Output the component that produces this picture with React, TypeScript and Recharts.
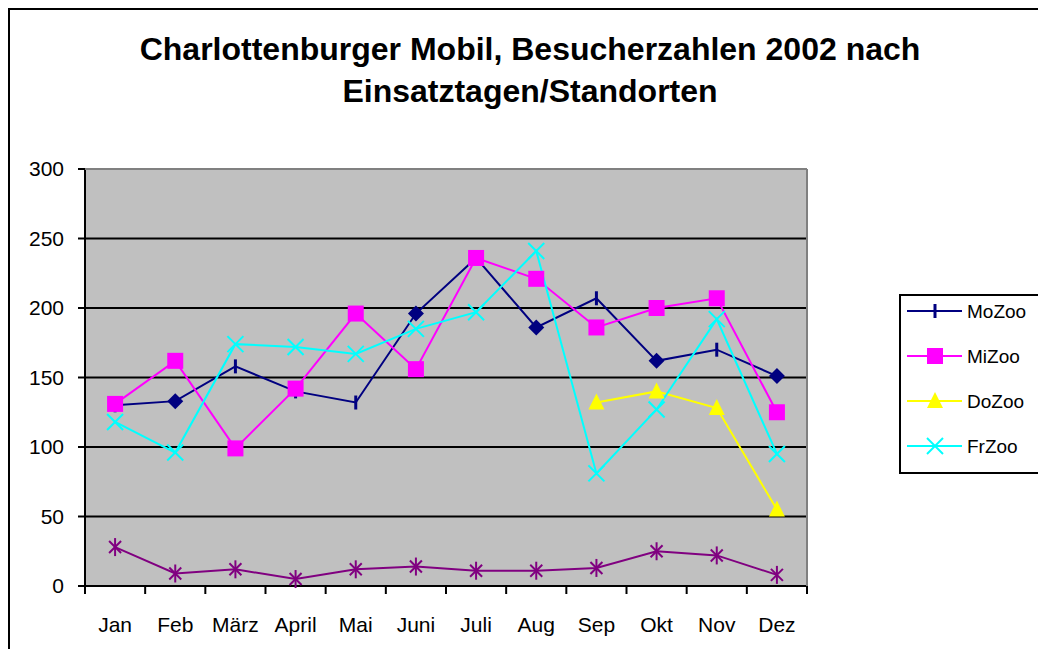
import React from 'react';
import { LineChart, Line, XAxis, YAxis, CartesianGrid } from 'recharts';

// Besucherzahlen je Monat
const months = ['Jan', 'Feb', 'März', 'April', 'Mai', 'Juni', 'Juli', 'Aug', 'Sep', 'Okt', 'Nov', 'Dez'];
const moZoo = [130, 133, 158, 140, 132, 196, 236, 186, 207, 162, 170, 151];
const miZoo = [131, 162, 99, 142, 196, 156, 236, 221, 186, 200, 207, 125];
const doZoo = [null, null, null, null, null, null, null, null, 132, 140, 128, 55];
const frZoo = [118, 96, 174, 172, 167, 185, 197, 241, 81, 127, 192, 95];
const reihe5 = [28, 9, 12, 5, 12, 14, 11, 11, 13, 25, 22, 8];

const yTicks = [0, 50, 100, 150, 200, 250, 300];
const titleLines = ['Charlottenburger Mobil, Besucherzahlen 2002 nach', 'Einsatztagen/Standorten'];
const legendNames = ['MoZoo', 'MiZoo', 'DoZoo', 'FrZoo'];
// MoZoo is drawn with two marker types in the original
const moZooDiamonds = ['Feb', 'Juni', 'Aug', 'Okt', 'Dez'];

const data = months.map((m, i) => ({
  month: m,
  MoZoo: moZoo[i],
  MiZoo: miZoo[i],
  DoZoo: doZoo[i],
  FrZoo: frZoo[i],
  Reihe5: reihe5[i],
}));

const W = 1046;
const H = 657;
const PLOT_LEFT = 85;
const PLOT_TOP = 169;
const PLOT_RIGHT = 807;
const PLOT_BOTTOM = 586;
const BAND = (PLOT_RIGHT - PLOT_LEFT) / months.length;
const FONT = '"Liberation Sans", Arial, sans-serif';

const NAVY = '#000080';
const MAGENTA = '#FF00FF';
const YELLOW = '#FFFF00';
const CYAN = '#00FFFF';
const PURPLE = '#800080';

const marker = (kind: string, x: number, y: number, key?: string) => {
  switch (kind) {
    case 'diamond':
      return <path key={key} d={`M${x},${y - 8} L${x + 8},${y} L${x},${y + 8} L${x - 8},${y} Z`} fill={NAVY} />;
    case 'dash':
      return <line key={key} x1={x} x2={x} y1={y - 7} y2={y + 7} stroke={NAVY} strokeWidth={3} />;
    case 'square':
      return <rect key={key} x={x - 8} y={y - 8} width={16} height={16} fill={MAGENTA} />;
    case 'triangle':
      return <path key={key} d={`M${x},${y - 9} L${x + 8},${y + 7} L${x - 8},${y + 7} Z`} fill={YELLOW} />;
    case 'x':
      return (
        <g key={key} stroke={CYAN} strokeWidth={2}>
          <line x1={x - 8} y1={y - 8} x2={x + 8} y2={y + 8} />
          <line x1={x - 8} y1={y + 8} x2={x + 8} y2={y - 8} />
        </g>
      );
    case 'star':
      return (
        <g key={key} stroke={PURPLE} strokeWidth={2}>
          <line x1={x - 6} y1={y - 6} x2={x + 6} y2={y + 6} />
          <line x1={x - 6} y1={y + 6} x2={x + 6} y2={y - 6} />
          <line x1={x} y1={y - 9} x2={x} y2={y + 9} />
        </g>
      );
    default:
      return <g key={key} />;
  }
};

const dotFor = (kind: string | ((p: any) => string)) => (props: any) => {
  const { cx, cy, index, value, payload } = props;
  const key = `dot-${index}`;
  if (value == null || cx == null || cy == null) return <g key={key} />;
  const k = typeof kind === 'function' ? kind(payload) : kind;
  return marker(k, cx, cy, key);
};

const MonthTick = (props: any) => {
  const { x, payload, index } = props;
  const half = BAND / 2;
  return (
    <g>
      <line x1={x - half} x2={x - half} y1={PLOT_BOTTOM} y2={PLOT_BOTTOM + 8} stroke="#000" strokeWidth={2} />
      {index === months.length - 1 && (
        <line x1={x + half} x2={x + half} y1={PLOT_BOTTOM} y2={PLOT_BOTTOM + 8} stroke="#000" strokeWidth={2} />
      )}
      <text x={x} y={632} textAnchor="middle" fontSize={21} fill="#000" fontFamily={FONT}>
        {payload.value}
      </text>
    </g>
  );
};

const legendMarkers = ['dash', 'square', 'triangle', 'x'];
const legendColors = [NAVY, MAGENTA, YELLOW, CYAN];

const Overlay = () => (
  <svg width={W} height={H} style={{ position: 'absolute', left: 0, top: 0, pointerEvents: 'none' }}>
    {/* outer chart frame: left, top, right down to the legend */}
    <path d="M9,657 L9,9 L1040,9 L1040,295" fill="none" stroke="#000" strokeWidth={2} />
    {/* plot frame top / right */}
    <line x1={PLOT_LEFT} y1={PLOT_TOP} x2={PLOT_RIGHT} y2={PLOT_TOP} stroke="#808080" strokeWidth={2} />
    <line x1={PLOT_RIGHT} y1={PLOT_TOP} x2={PLOT_RIGHT} y2={PLOT_BOTTOM} stroke="#808080" strokeWidth={2} />
    {/* title */}
    {titleLines.map((t, i) => (
      <text
        key={t}
        x={530}
        y={60 + i * 42}
        textAnchor="middle"
        fontSize={32}
        fontWeight="bold"
        fontFamily={FONT}
        fill="#000"
      >
        {t}
      </text>
    ))}
    {/* legend */}
    <rect x={900} y={295} width={160} height={178} fill="#fff" stroke="#000" strokeWidth={2} />
    {legendNames.map((name, i) => {
      const y = 311 + i * 45;
      return (
        <g key={name}>
          <line x1={907} x2={962} y1={y} y2={y} stroke={legendColors[i]} strokeWidth={2} />
          {marker(legendMarkers[i], 935, y)}
          <text x={967} y={y + 7} fontSize={19} fontFamily={FONT} fill="#000">
            {name}
          </text>
        </g>
      );
    })}
  </svg>
);

const App = () => {
  return (
    <div style={{ position: 'relative', width: W, height: H, margin: -8, overflow: 'hidden', background: '#fff', fontFamily: FONT }}>
      <LineChart
        width={W}
        height={H}
        data={data}
        margin={{ top: PLOT_TOP, right: W - PLOT_RIGHT, bottom: H - PLOT_BOTTOM - 40, left: 0 }}
      >
        <CartesianGrid vertical={false} stroke="#000" strokeWidth={2} fill="#C0C0C0" fillOpacity={1} />
        <XAxis
          dataKey="month"
          scale="band"
          interval={0}
          height={40}
          axisLine={{ stroke: '#000', strokeWidth: 2 }}
          tickLine={false}
          tick={<MonthTick />}
        />
        <YAxis
          domain={[0, 300]}
          ticks={yTicks}
          width={PLOT_LEFT}
          tickSize={7}
          tickMargin={14}
          axisLine={{ stroke: '#000', strokeWidth: 2 }}
          tickLine={{ stroke: '#000', strokeWidth: 2 }}
          tick={{ fill: '#000', fontSize: 21 }}
        />
        <Line
          dataKey="MoZoo"
          stroke={NAVY}
          strokeWidth={2}
          isAnimationActive={false}
          dot={dotFor((p: any) => (moZooDiamonds.includes(p.month) ? 'diamond' : 'dash'))}
          activeDot={false}
        />
        <Line dataKey="MiZoo" stroke={MAGENTA} strokeWidth={2} isAnimationActive={false} dot={dotFor('square')} activeDot={false} />
        <Line dataKey="DoZoo" stroke={YELLOW} strokeWidth={2} isAnimationActive={false} dot={dotFor('triangle')} activeDot={false} />
        <Line dataKey="FrZoo" stroke={CYAN} strokeWidth={2} isAnimationActive={false} dot={dotFor('x')} activeDot={false} />
        <Line dataKey="Reihe5" stroke={PURPLE} strokeWidth={2} isAnimationActive={false} dot={dotFor('star')} activeDot={false} />
      </LineChart>
      <Overlay />
    </div>
  );
};

export default App;
